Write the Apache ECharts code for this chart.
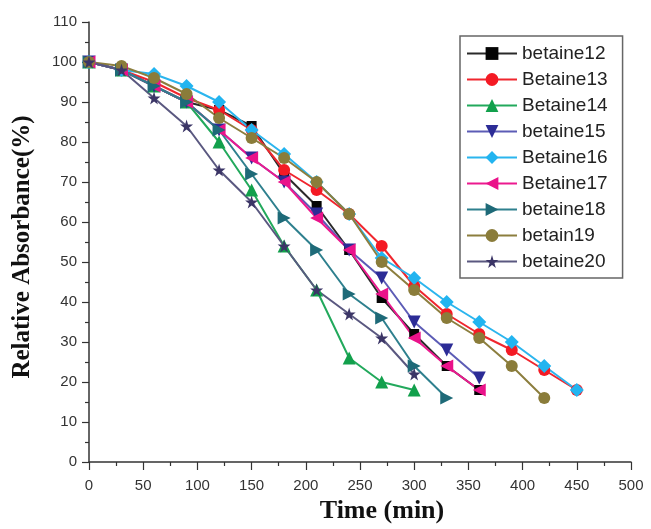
<!DOCTYPE html>
<html>
<head>
<meta charset="utf-8">
<title>Relative Absorbance vs Time</title>
<script src="https://cdn.jsdelivr.net/npm/echarts@6/dist/echarts.min.js"></script>
<style>
  html, body { margin: 0; padding: 0; background: #fff; }
  #chart { width: 651px; height: 529px; }
</style>
</head>
<body>
<div id="chart"></div>
<script>
// Sampling times (min)
const times = [0, 30, 60, 90, 120, 150, 180, 210, 240, 270, 300, 330, 360, 390, 420, 450];

// Relative absorbance (%) for each sample, one value per sampling time
const betaine12 = [100, 98, 94, 90, 88, 84, 72, 64, 53, 41, 32, 24, 18];
const betaine13 = [100, 98, 95, 91, 88, 83, 73, 68, 62, 54, 44, 37, 32, 28, 23, 18];
const betaine14 = [100, 98, 94, 90, 80, 68, 54, 43, 26, 20, 18];
const betaine15 = [100, 98, 94, 90, 83, 76, 70, 62, 53, 46, 35, 28, 21];
const betaine16 = [100, 98, 97, 94, 90, 83, 77, 70, 62, 51, 46, 40, 35, 30, 24, 18];
const betaine17 = [100, 98, 94, 90, 83, 76, 70, 61, 53, 42, 31, 24, 18];
const betaine18 = [100, 98, 94, 90, 83, 72, 61, 53, 42, 36, 24, 16];
const betain19  = [100, 99, 96, 92, 86, 81, 76, 70, 62, 50, 43, 36, 31, 24, 16];
const betaine20 = [100, 98, 91, 84, 73, 65, 54, 43, 37, 31, 22];

const xTicks = { min: 0, max: 500, interval: 50 };
const yTicks = { min: 0, max: 110, interval: 10 };

const STAR = 'path://M50,0 L61,35 L98,35 L68,57 L79,91 L50,70 L21,91 L32,57 L2,35 L39,35 Z';

// name, values, marker, rotation, line colour, marker colour, marker size
const seriesDefs = [
  ['betaine12', betaine12, 'rect', 0, '#2a2a2a', '#050505', 10],
  ['Betaine13', betaine13, 'circle', 0, '#f0262e', '#f41a24', 12],
  ['Betaine14', betaine14, 'triangle', 0, '#22a95c', '#12a04c', 13],
  ['betaine15', betaine15, 'triangle', 180, '#5c5cb6', '#2c2c96', 13],
  ['Betaine16', betaine16, 'diamond', 0, '#2bb5ee', '#22b4f0', 14],
  ['Betaine17', betaine17, 'triangle', 90, '#ec1a8f', '#ea128a', 13],
  ['betaine18', betaine18, 'triangle', -90, '#2e808e', '#1e6a78', 13],
  ['betain19', betain19, 'circle', 0, '#8c7e3e', '#8a7c3a', 12],
  ['betaine20', betaine20, STAR, 0, '#5a5880', '#3b3566', 13]
];

const series = seriesDefs.map(([name, vals, symbol, rot, lineColor, markColor, size]) => ({
  name,
  type: 'line',
  data: vals.map((v, i) => [times[i], v]),
  symbol,
  symbolRotate: rot,
  symbolSize: size,
  showAllSymbol: true,
  lineStyle: { color: lineColor, width: 2 },
  itemStyle: { color: markColor },
  emphasis: { disabled: true }
}));

const axisColor = '#333';
const labelFont = 'Liberation Sans, Arial, sans-serif';
const titleFont = 'Liberation Serif, Times New Roman, serif';

const chart = echarts.init(document.getElementById('chart'), null, { renderer: 'canvas' });
chart.setOption({
  animation: false,
  backgroundColor: '#fff',
  grid: { left: 89, right: 20, top: 22, bottom: 64, containLabel: false },
  legend: {
    orient: 'vertical',
    left: 460,
    top: 36,
    itemWidth: 50,
    itemHeight: 16,
    itemGap: 7,
    padding: [8, 15, 7, 6],
    borderColor: '#666',
    borderWidth: 1.5,
    backgroundColor: '#fff',
    textStyle: { fontFamily: labelFont, fontSize: 19, color: '#222' },
    data: seriesDefs.map(d => d[0])
  },
  xAxis: {
    type: 'value',
    min: xTicks.min,
    max: xTicks.max,
    interval: xTicks.interval,
    name: 'Time (min)',
    nameLocation: 'middle',
    nameGap: 36,
    nameTextStyle: {
      fontFamily: titleFont, fontWeight: 'bold', fontSize: 26, color: '#111',
      padding: [0, 0, 0, 44]
    },
    axisLine: { show: true, onZero: false, lineStyle: { color: axisColor, width: 1.5 } },
    axisTick: { show: true, inside: false, length: 8, lineStyle: { color: axisColor, width: 1.2 } },
    minorTick: { show: true, splitNumber: 2, length: 4, lineStyle: { color: axisColor, width: 1.2 } },
    axisLabel: { margin: 16, fontFamily: labelFont, fontSize: 15, color: '#333' },
    splitLine: { show: false }
  },
  yAxis: {
    type: 'value',
    min: yTicks.min,
    max: yTicks.max,
    interval: yTicks.interval,
    name: 'Relative Absorbance(%)',
    nameLocation: 'middle',
    nameGap: 54,
    nameTextStyle: {
      fontFamily: titleFont, fontWeight: 'bold', fontSize: 25, color: '#111',
      padding: [0, 10, 0, 0]
    },
    axisLine: { show: true, onZero: false, lineStyle: { color: axisColor, width: 1.5 } },
    axisTick: { show: true, inside: false, length: 7, lineStyle: { color: axisColor, width: 1.2 } },
    minorTick: { show: true, splitNumber: 2, length: 4, lineStyle: { color: axisColor, width: 1.2 } },
    axisLabel: { margin: 12, fontFamily: labelFont, fontSize: 15, color: '#333' },
    splitLine: { show: false }
  },
  series
});
</script>
</body>
</html>
